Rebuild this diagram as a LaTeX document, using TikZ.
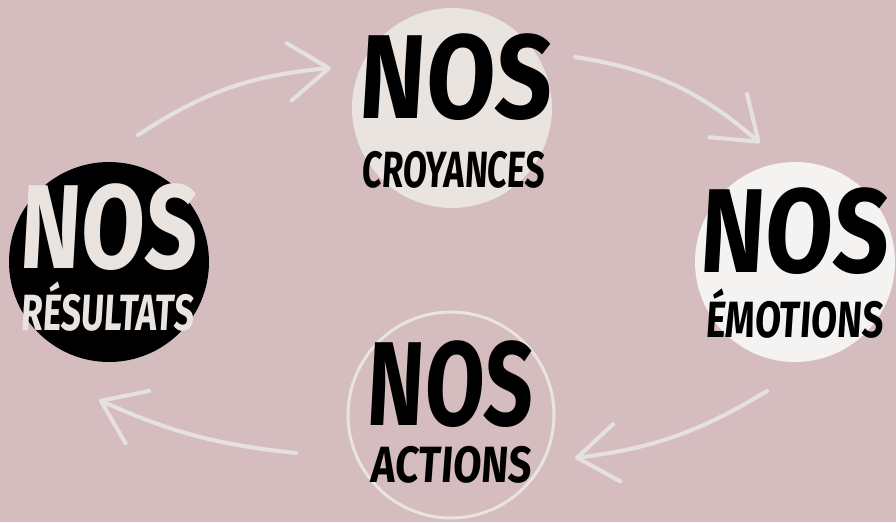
\documentclass[tikz,border=0pt]{standalone}
\usepackage{fontspec}
\usetikzlibrary{arrows.meta}
\newfontfamily\handfont{Fira Sans}[FakeStretch=0.82,FakeSlant=0.06]
\newfontfamily\handfontetroit{Fira Sans}[FakeStretch=0.66,FakeSlant=0.06]
\newcommand{\etire}[2]{\scalebox{#1}[1]{#2}}

\definecolor{rosebg}{HTML}{D5BCBE}
\definecolor{creme}{HTML}{E9E4E0}
\definecolor{blanc}{HTML}{F4F3F2}
\definecolor{trait}{HTML}{E4E1E0}

\tikzset{
  etape/.style={circle, minimum size=4cm, inner sep=0pt, outer sep=0pt},
  gros/.style={font=\handfont\bfseries\fontsize{68}{68}\selectfont, inner sep=0pt, anchor=base},
  petit/.style={font=\handfontetroit\bfseries\fontsize{29}{29}\selectfont, inner sep=0pt, anchor=base},
  fleche/.style={trait, line width=2.3pt, line cap=round, line join=round,
    -{Straight Barb[length=0.8cm,width=1.15cm,round]}}
}

\begin{document}
\begin{tikzpicture}[x=0.02cm, y=-0.02cm]
  % fond
  \fill[rosebg] (0,0) rectangle (896,522);
  \useasboundingbox (0,0) rectangle (896,522);

  % les quatre etapes
  \node[etape, fill=creme] (croy) at (452,108) {};
  \node[etape, fill=blanc] (emo) at (795,262) {};
  \node[etape, draw=creme, line width=1.7pt, minimum size=4.12cm] (act) at (451,415) {};
  \node[etape, fill=black] (res) at (109,262) {};

  % textes
  \node[gros] (croyA) at (454,118) {\etire{1.02}{NOS}};
  \node[petit] (croyB) at (453,187) {\etire{1.03}{CROYANCES}};
  \node[gros] (emoA) at (793,272) {NOS};
  \node[petit] (emoB) at (794,337) {\etire{1.12}{ÉMOTIONS}};
  \node[gros] (actA) at (449,425) {\etire{0.88}{NOS}};
  \node[petit] (actB) at (451,482) {\etire{1.22}{ACTIONS}};
  \node[gros, creme] (resA) at (107,268) {\etire{0.94}{NOS}};
  \node[petit, creme] (resB) at (107,330) {\etire{1.05}{RÉSULTATS}};

  % extremites des fleches
  \coordinate (f1a) at (138,135);
  \coordinate (f1b) at (331,68);
  \coordinate (f2a) at (575,57);
  \coordinate (f2b) at (760,143);
  \coordinate (f3a) at (767,391);
  \coordinate (f3b) at (575,458);
  \coordinate (f4a) at (296,453);
  \coordinate (f4b) at (99,400);

  % le cycle
  \draw[fleche] (f1a) to[bend left=14] (f1b);
  \draw[fleche] (f2a) to[bend left=16] (f2b);
  \draw[fleche] (f3a) to[bend left=12] (f3b);
  \draw[fleche] (f4a) to[bend left=9] (f4b);
\end{tikzpicture}
\end{document}
